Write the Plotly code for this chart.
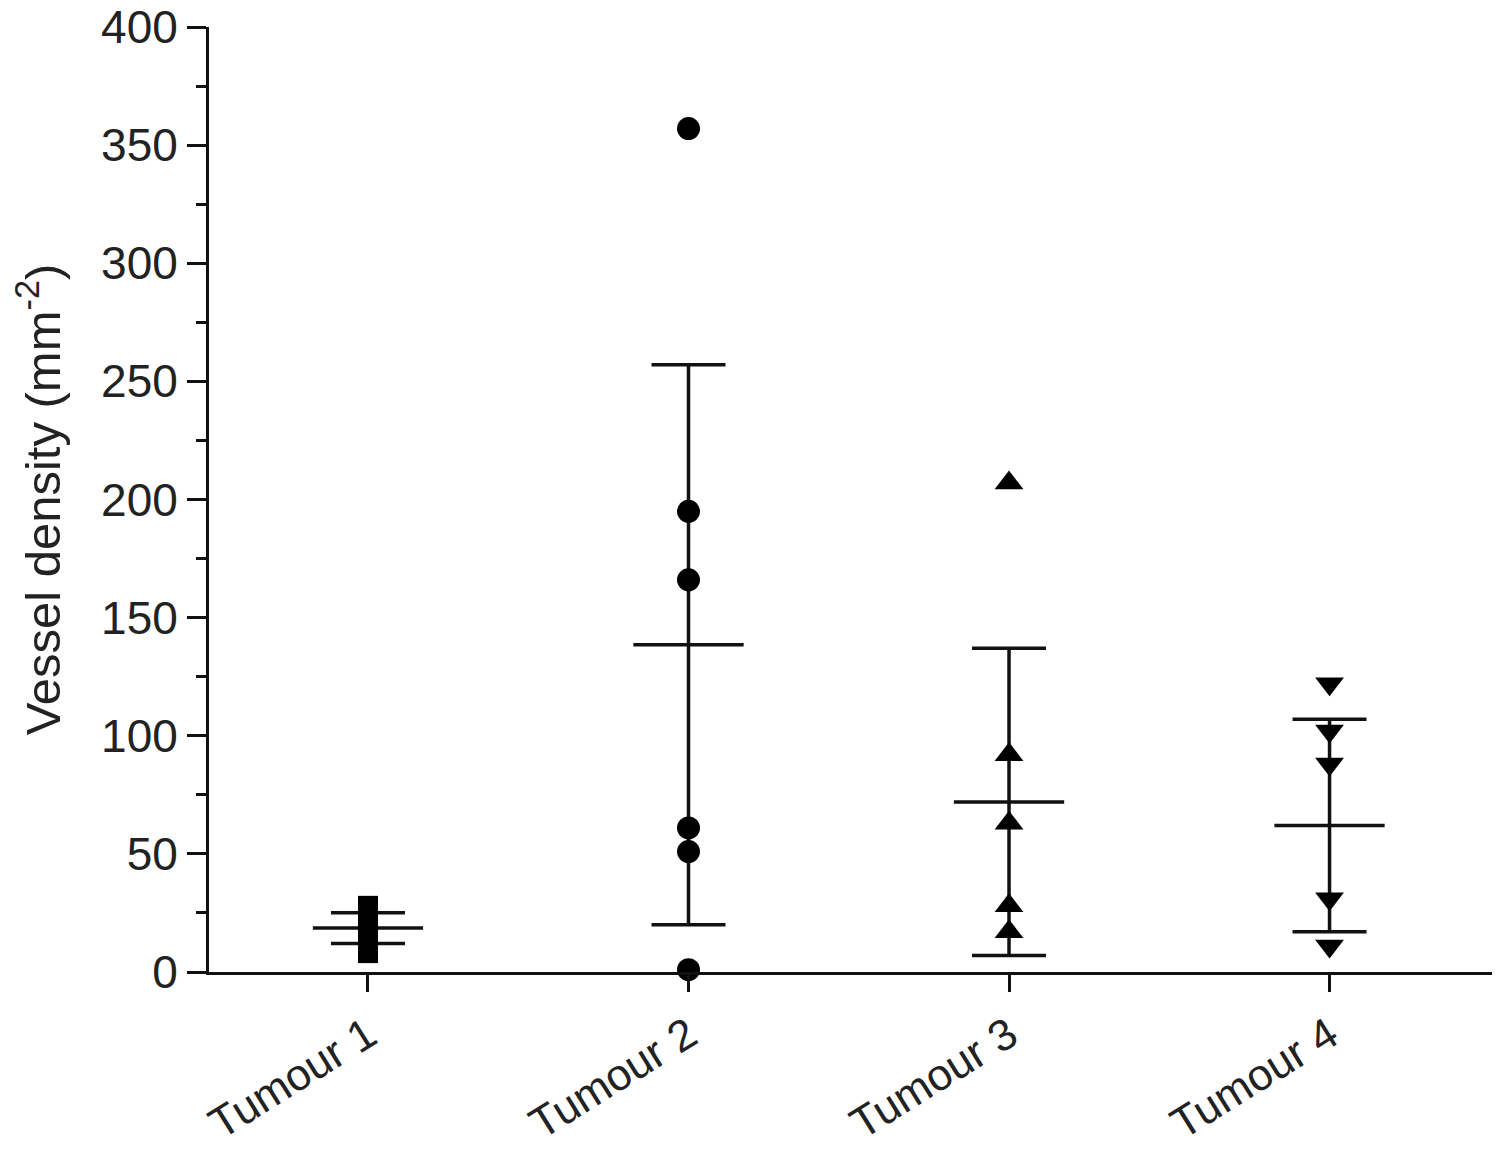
import plotly.graph_objects as go

groups = ["Tumour 1", "Tumour 2", "Tumour 3", "Tumour 4"]
tumour1 = [28, 24, 20, 16, 12, 8]
tumour2 = [357, 195, 166, 61, 51, 1]
tumour3 = [207, 92, 63, 28, 17]
tumour4 = [122, 102, 88, 31, 11]

# mean and standard deviation shown by the bars
means = [18.6, 138.5, 72, 62]
sds = [6.5, 118.5, 65, 45]

symbols = ["square", "circle", "triangle-up", "triangle-down"]
sizes = [20, 23, 25, 25]
values = [tumour1, tumour2, tumour3, tumour4]

fig = go.Figure()

# mean +/- SD as error bars
fig.add_trace(go.Scatter(
    x=list(range(len(groups))), y=means, mode="markers",
    marker=dict(size=1, color="rgba(0,0,0,0)"),
    error_y=dict(type="data", array=sds, visible=True, color="#111",
                 thickness=3.5, width=37),
    showlegend=False, hoverinfo="skip"))

# horizontal mean lines
mx, my = [], []
for i, m in enumerate(means):
    mx += [i - 0.172, i + 0.172, None]
    my += [m, m, None]
fig.add_trace(go.Scatter(x=mx, y=my, mode="lines",
                         line=dict(color="#111", width=3.5),
                         showlegend=False, hoverinfo="skip"))

# individual points
for i, vals in enumerate(values):
    fig.add_trace(go.Scatter(
        x=[i] * len(vals), y=vals, mode="markers", name=groups[i],
        marker=dict(symbol=symbols[i], size=sizes[i], color="#000"),
        cliponaxis=False, showlegend=False))

fig.update_layout(
    width=1500, height=1151,
    margin=dict(l=201, r=15, t=19, b=187),
    plot_bgcolor="white", paper_bgcolor="white",
    font=dict(family="Liberation Sans, Arial, sans-serif", size=46, color="#222"),
)

fig.update_xaxes(
    range=[-0.496, 3.51], automargin=False,
    tickmode="array", tickvals=list(range(len(groups))), ticktext=groups,
    tickfont=dict(size=44),
    tickangle=-32, ticks="outside", ticklen=17, tickwidth=3, tickcolor="#111",
    showline=True, linecolor="#111", linewidth=3,
    showgrid=False, zeroline=False,
)

fig.update_yaxes(
    range=[0, 400], automargin=False, ticklabeloverflow="allow",
    tickmode="linear", tick0=0, dtick=50,
    ticks="outside", ticklen=19, tickwidth=3, tickcolor="#111",
    minor=dict(ticks="outside", ticklen=10, tickwidth=2.5, dtick=25, tickcolor="#111"),
    showline=True, linecolor="#111", linewidth=3,
    showgrid=False, zeroline=False,
    title=dict(text="Vessel density (mm<sup>-2</sup>)", font=dict(size=49), standoff=30),
)

fig.write_html("out.html")
